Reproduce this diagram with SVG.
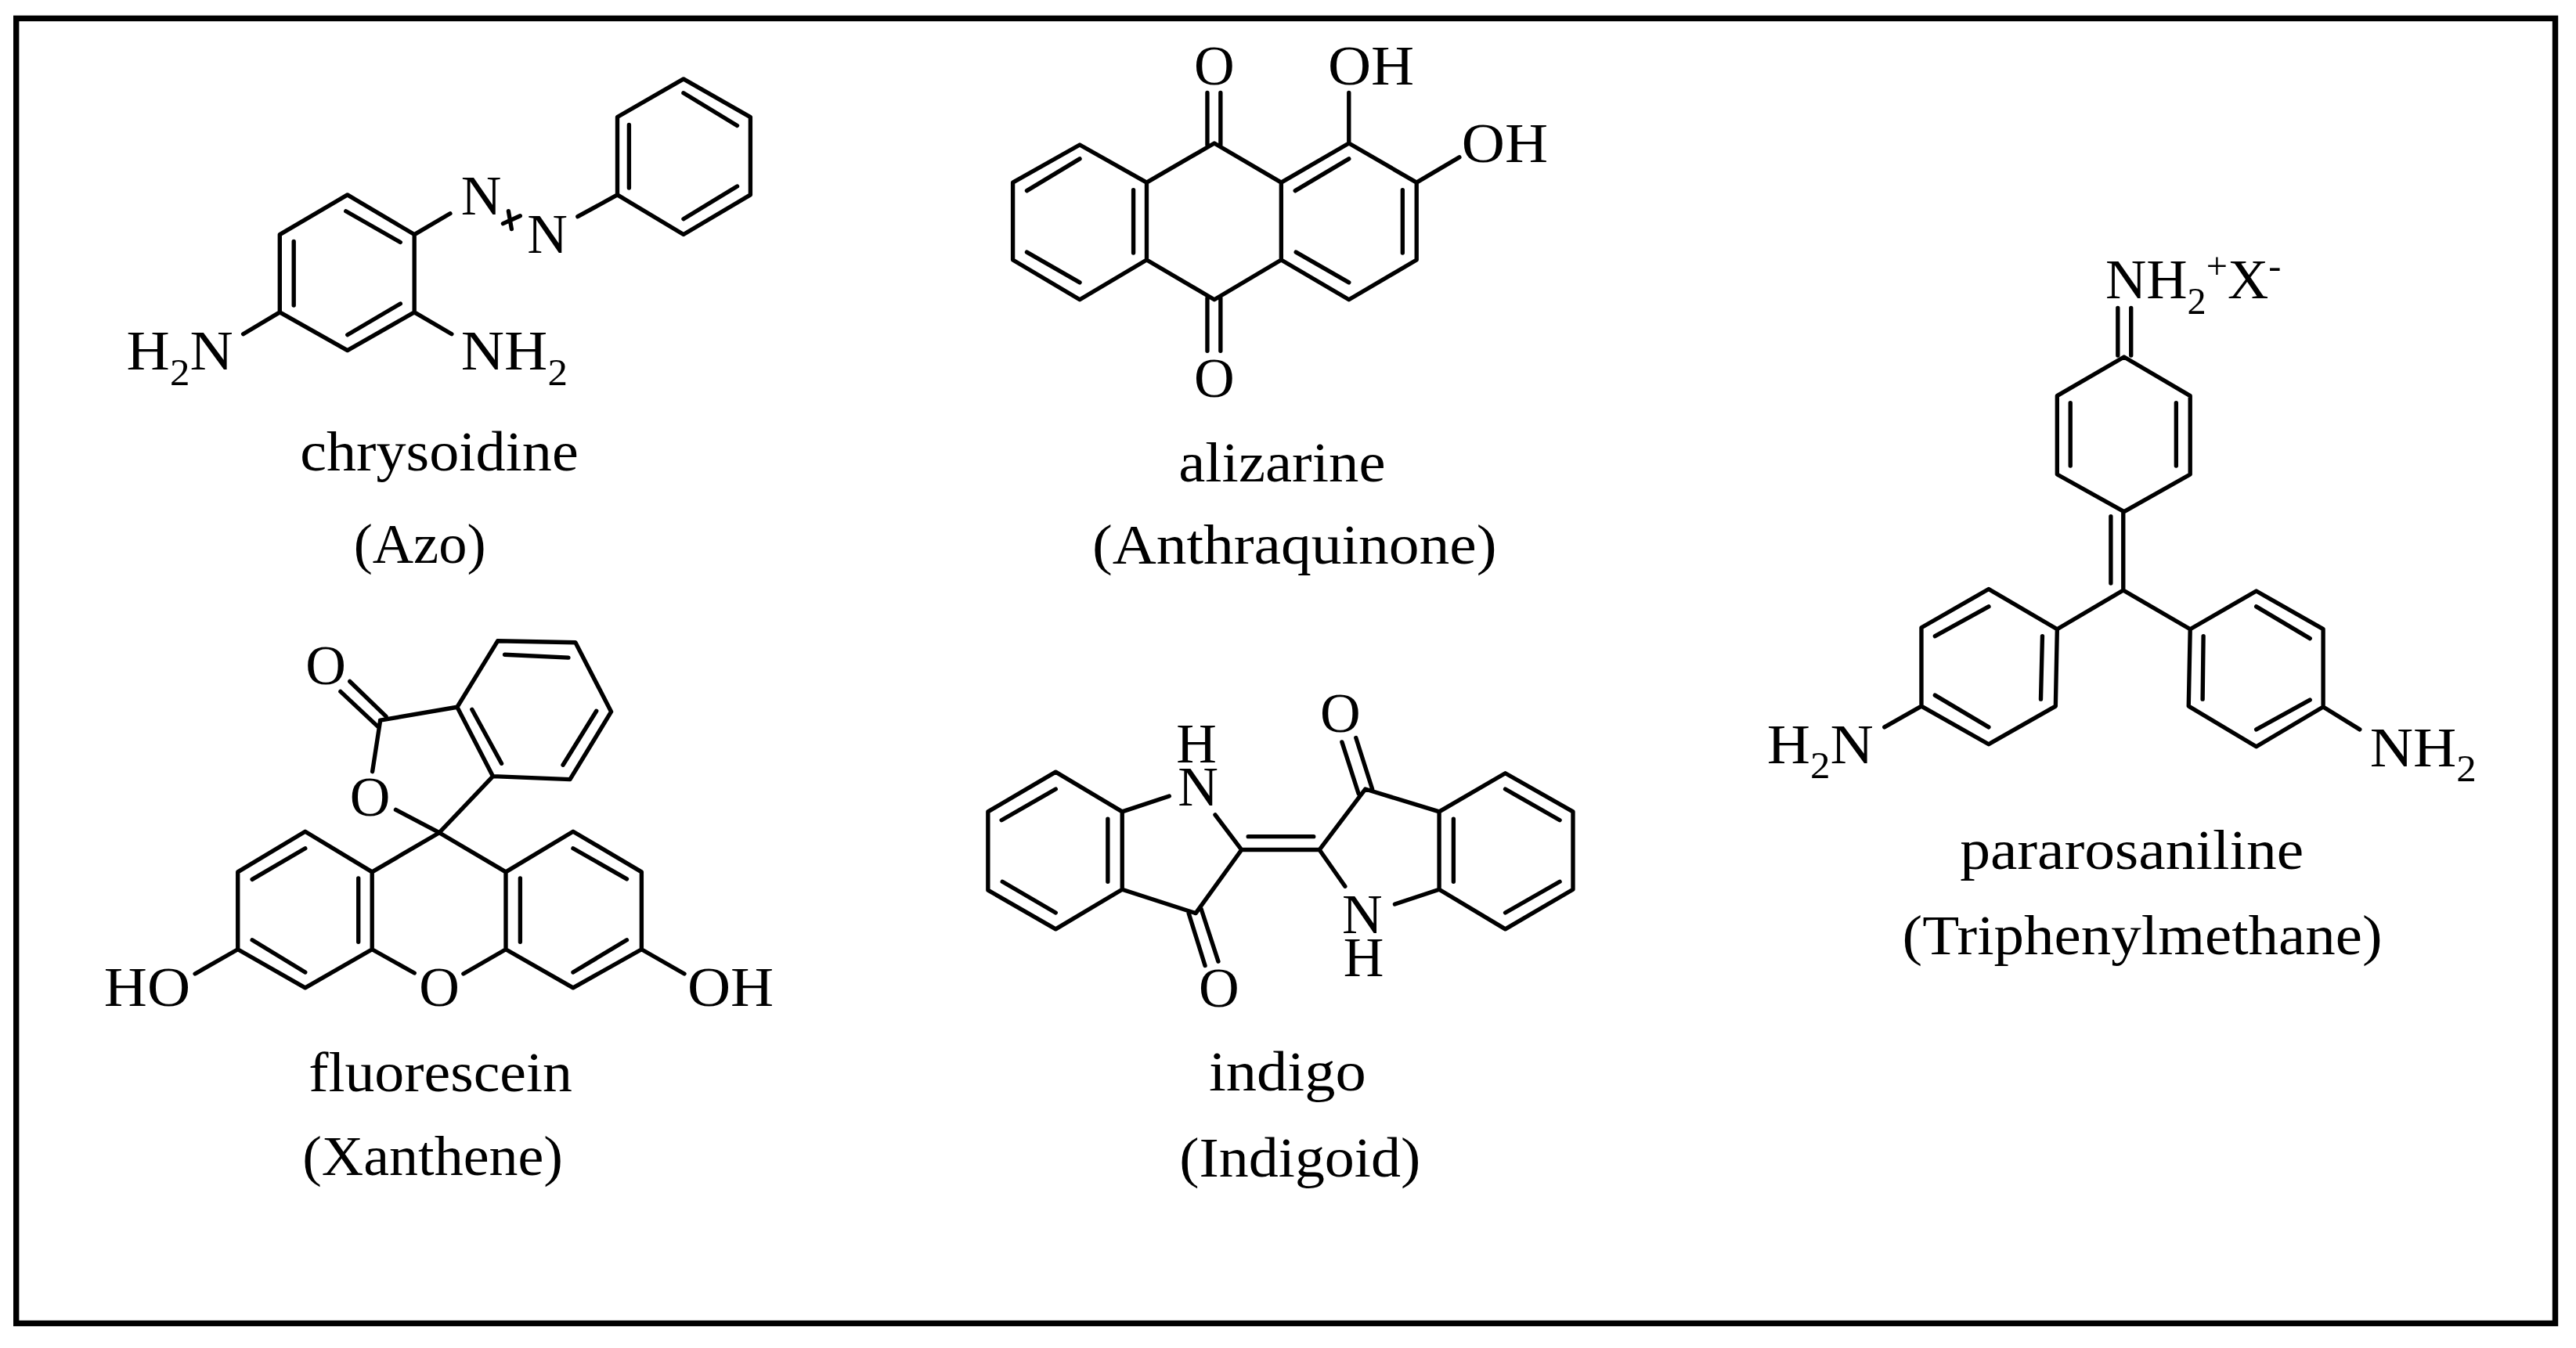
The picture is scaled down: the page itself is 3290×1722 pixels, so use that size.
<svg xmlns="http://www.w3.org/2000/svg" width="3290" height="1722" viewBox="0 0 3290 1722">
<style>
text{font-family:"Liberation Serif","Times New Roman",serif;fill:#000}
.a{font-size:72px}
.c{font-size:73px}
.s{font-size:48px}
.b{fill:none;stroke:#000;stroke-width:5.4;stroke-linecap:round;stroke-linejoin:round}
</style>
<rect width="3290" height="1722" fill="#fff"/>
<rect id="frame" x="20.7" y="23.5" width="3242.8" height="1667" fill="none" stroke="#000" stroke-width="7.4"/>
<g id="chrysoidine" transform="matrix(.9935 0 0 .9935 .65 .52)">
<path class="b" d="M446 250L532 301V401L446 450L359 401V301ZM444 271L514 311M377 310V392M446 430L514 390M532 301L578 274M646 287L668 277M653 271L657 294M742 278L793 250M793 250V150L878 101L964 150V250L878 301ZM808 160V241M878 119L947 161M947 239L878 281M312 429L359 401M532 401L580 429"/>
<text class="a" x="592" y="275">N</text>
<text class="a" x="677" y="325">N</text>
<text class="a" x="162" y="475" textLength="137" lengthAdjust="spacingAndGlyphs">H<tspan class="s" dy="20">2</tspan><tspan dy="-20">N</tspan></text>
<text class="a" x="592" y="475" textLength="137" lengthAdjust="spacingAndGlyphs">NH<tspan class="s" dy="20">2</tspan></text>
<text class="c" x="385" y="604" textLength="358" lengthAdjust="spacingAndGlyphs">chrysoidine</text>
<text class="c" x="454" y="723" textLength="170" lengthAdjust="spacingAndGlyphs">(Azo)</text>
</g>
<g id="alizarine" transform="matrix(.9935 0 0 .9935 8 .2)">
<path class="b" d="M1380 186L1466 234.5V334L1380 385L1294 334V234.5ZM1312 245L1380 204M1449 244V325M1312 324L1380 363M1466 234.5L1553 184L1639 234.5V334L1553 385L1466 334M1639 234.5L1726 184L1813 234.5V334L1726 385L1639 334M1657 245L1726 204M1795 244V325M1658 324L1726 363M1544 119V186M1561 119V186M1544 383V451M1561 383V451M1726 119V184M1813 234.5L1868 202"/>
<text class="a" x="1527" y="109">O</text>
<text class="a" x="1527" y="510">O</text>
<text class="a" x="1699" y="109" textLength="111" lengthAdjust="spacingAndGlyphs">OH</text>
<text class="a" x="1871" y="208" textLength="111" lengthAdjust="spacingAndGlyphs">OH</text>
<text class="c" x="1507" y="619" textLength="266" lengthAdjust="spacingAndGlyphs">alizarine</text>
<text class="c" x="1396" y="725" textLength="520" lengthAdjust="spacingAndGlyphs">(Anthraquinone)</text>
</g>
<g id="pararosaniline" transform="matrix(.9935 0 0 .9935 14.43 1.95)">
<path class="b" d="M2716 457L2801 507V608L2716 656L2630 608V507ZM2647 516V597M2783 516V597M2708 394V455M2725 394V455M2699 662V748M2715 656V757M2715 757L2630 807L2628 906L2542 955L2455.5 906V805L2542 755.500L2630 807M2611 816L2609 897M2473 816L2542 778M2473 892L2542 933M2715 757L2801 807L2799 906L2886 958L2972 907V807L2886 758L2801 807M2818 816L2817 897M2886 778L2955 819M2886 936L2955 898M2455.5 906L2408 933M2972 907L3019 936"/>
<text class="a" x="2692" y="382" textLength="226" lengthAdjust="spacingAndGlyphs">NH<tspan class="s" dy="20">2</tspan><tspan class="s" dy="-46">+</tspan><tspan dy="26">X</tspan><tspan class="s" dy="-26">-</tspan></text>
<text class="a" x="2257" y="979" textLength="137" lengthAdjust="spacingAndGlyphs">H<tspan class="s" dy="20">2</tspan><tspan dy="-20">N</tspan></text>
<text class="a" x="3032" y="983" textLength="137" lengthAdjust="spacingAndGlyphs">NH<tspan class="s" dy="20">2</tspan></text>
<text class="c" x="2505" y="1115" textLength="442" lengthAdjust="spacingAndGlyphs">pararosaniline</text>
<text class="c" x="2431" y="1225" textLength="617" lengthAdjust="spacingAndGlyphs">(Triphenylmethane)</text>
</g>
<g id="fluorescein" transform="matrix(.9935 0 0 .9935 .72 5.13)">
<path class="b" d="M564 1065.500L477.600 1116V1215.500L391.600 1265L305 1215.500V1116L391.600 1064L477.600 1116M323.500 1125.600L391.600 1085.700M460 1124V1206M323.500 1203.500L391.600 1245M564 1065.500L649.500 1116V1215.500L736 1265L824 1215.500V1116L736 1064L649.500 1116M668 1124V1206M736 1085.700L805 1125M736 1245L805 1203.500M477.600 1215.500L532 1246M649.500 1215.500L595 1247M305 1215.500L250 1247M824 1215.500L879 1247M564 1065.500L508 1036M564 1065.500L633 993M488 922L478 987M488 921L587 904M449 871L495.500 916M437 884L485 929M587 904L633 993L732 997L785 910L739 821L639 819ZM606 907L644 976.500M723 978.500L766 909M648 836.600L730 840.500"/>
<text class="a" x="538" y="1288">O</text>
<text class="a" x="133" y="1288" textLength="111" lengthAdjust="spacingAndGlyphs">HO</text>
<text class="a" x="883" y="1288" textLength="111" lengthAdjust="spacingAndGlyphs">OH</text>
<text class="a" x="449" y="1044">O</text>
<text class="a" x="392" y="875">O</text>
<text class="c" x="396" y="1398" textLength="339" lengthAdjust="spacingAndGlyphs">fluorescein</text>
<text class="c" x="388" y="1506" textLength="335" lengthAdjust="spacingAndGlyphs">(Xanthene)</text>
</g>
<g id="indigo" transform="matrix(.9935 0 0 .9935 8.06 5.59)">
<path class="b" d="M1349 987L1434.500 1038V1138L1349 1189L1262 1139V1038ZM1279.400 1049L1349 1009M1416 1047.400V1128M1280.500 1128L1349 1168M1434.500 1038L1495 1018M1554 1042L1588 1087H1688M1596.500 1070H1680.600M1588 1087L1529 1168.600L1434.500 1138M1520 1168.600L1541 1236M1536 1163L1558 1230.500M1688 1087L1747 1009L1842 1038M1717 948.500L1738.400 1015M1735 943L1756 1009M1842 1038V1138L1927 1189L2014 1138V1038L1927 988.600ZM1860.400 1047.400V1128M1927 1009L1997 1049M1927 1168L1997 1128M1688 1087L1721 1134M1842 1138L1785 1157"/>
<text class="a"><tspan x="1504" y="975">H</tspan><tspan x="1506" y="1030">N</tspan></text>
<text class="a" x="1533" y="1289">O</text>
<text class="a" x="1689" y="935">O</text>
<text class="a"><tspan x="1717" y="1194">N</tspan><tspan x="1719" y="1250">H</tspan></text>
<text class="c" x="1546" y="1397" textLength="202" lengthAdjust="spacingAndGlyphs">indigo</text>
<text class="c" x="1508" y="1507" textLength="310" lengthAdjust="spacingAndGlyphs">(Indigoid)</text>
</g>
</svg>
